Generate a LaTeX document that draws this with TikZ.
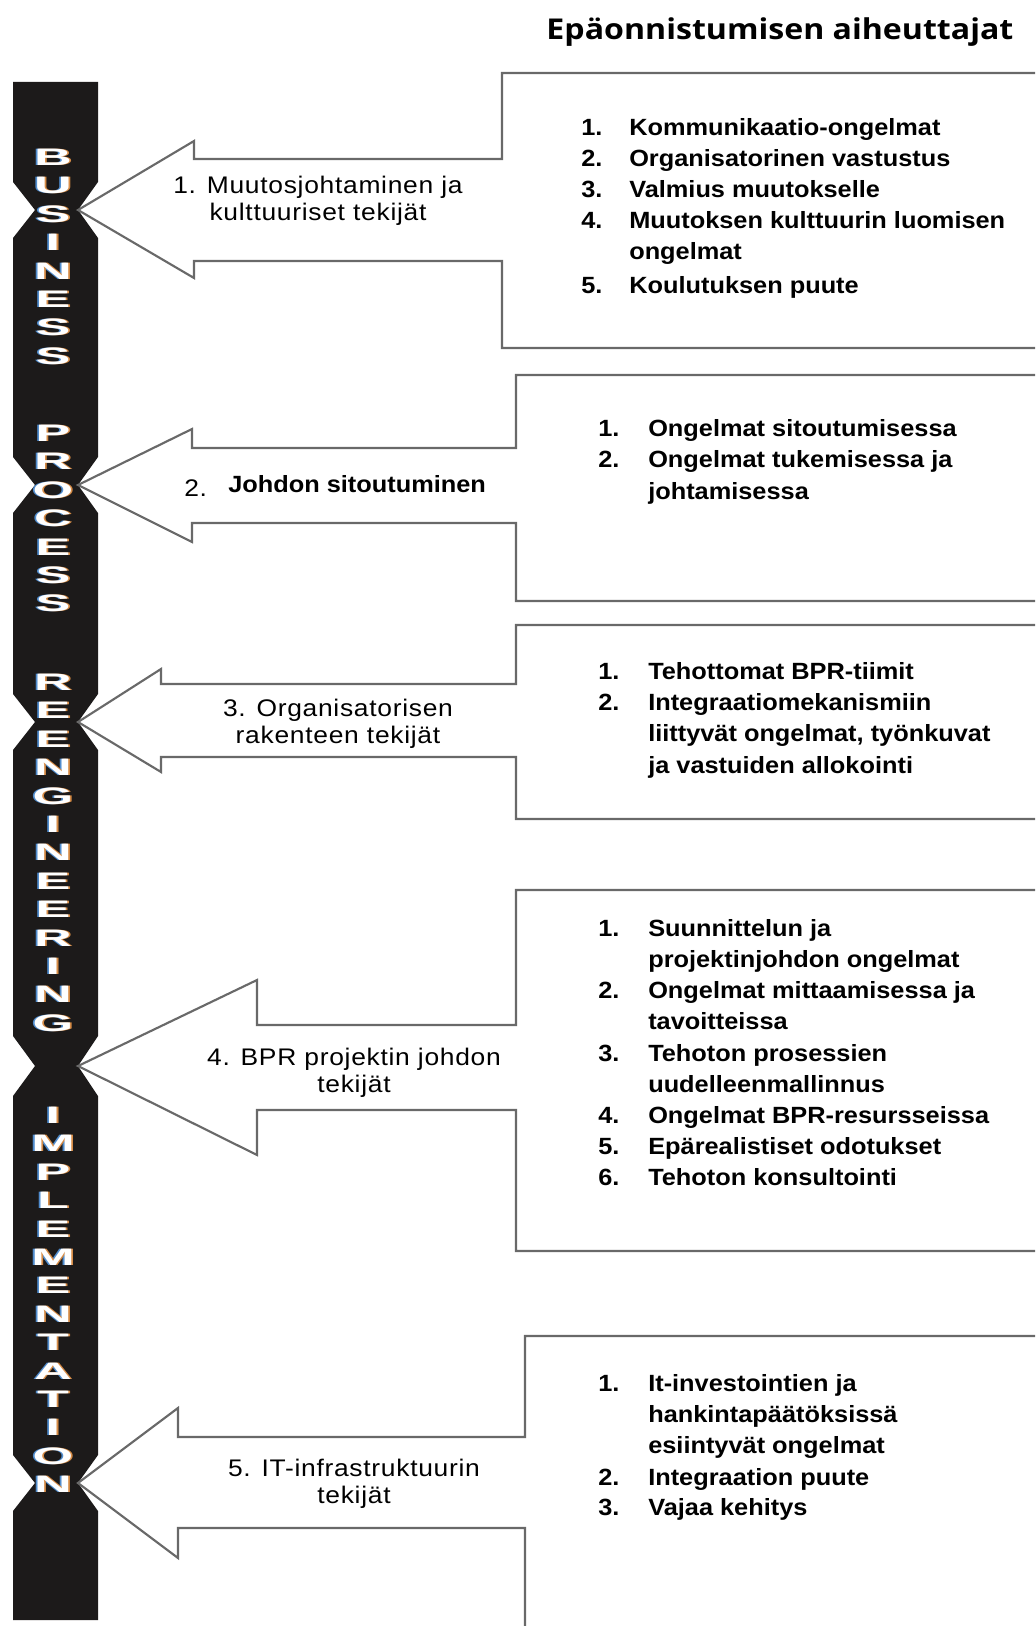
\documentclass[tikz,border=0pt]{standalone}
\usepackage{fontspec}
\setmainfont{Liberation Sans}
\newfontfamily\titlefont[FakeStretch=1.12]{Open Sans}
\newfontfamily\listfont[FakeStretch=1.08]{Liberation Sans}
\newfontfamily\labelfont[FakeStretch=1.1,LetterSpace=3]{Liberation Sans}
\newfontfamily\barfont[FakeStretch=2.2]{Liberation Sans}

\definecolor{barblack}{RGB}{28,26,26}
\definecolor{linegray}{RGB}{105,105,105}
\definecolor{fringeblue}{RGB}{80,140,205}
\definecolor{fringeorange}{RGB}{215,140,70}

\tikzset{
  outline/.style={draw=linegray, line width=1.6pt, fill=white, line join=miter},
  listtext/.style={anchor=west, inner sep=0pt, text height=12.5pt, text depth=0pt,
    font=\listfont\bfseries\fontsize{17.6}{21}\selectfont},
  lbl/.style={align=center, inner sep=0pt,
    font=\labelfont\fontsize{18}{20}\selectfont},
  barletter/.style={inner sep=0pt, text height=12.75pt, text depth=0pt,
    font=\barfont\bfseries\fontsize{17.8}{18}\selectfont},
  titletext/.style={inner sep=0pt, font=\titlefont\bfseries\fontsize{21.5}{24}\selectfont}
}

% one word of the band: letters 28.4 units apart, each with coloured fringes
\newcommand\bandword[2]{%
  \foreach \ch [count=\k] in {#2} {
    \pgfmathsetmacro\yy{#1+28.4*(\k-1)}
    \node[barletter, text=fringeblue] (#1-\k-b) at (51.2,\yy) {\ch};
    \node[barletter, text=fringeorange] (#1-\k-o) at (54.8,\yy) {\ch};
    \node[barletter, text=white] (#1-\k-w) at (53,\yy) {\ch};
  }%
}

\begin{document}
\begin{tikzpicture}[x=0.75pt, y=-0.75pt]
\useasboundingbox (0,0) rectangle (1035,1626);
\clip (0,0) rectangle (1035,1626);

% vertical band, pinched where each arrow points at it
\fill[barblack] (13,82) -- (98,82)
  -- (98,182) -- (78,210) -- (98,238)
  -- (98,457) -- (78,485) -- (98,513)
  -- (98,694) -- (78,722) -- (98,750)
  -- (98,1036) -- (78,1066) -- (98,1096)
  -- (98,1455) -- (78,1483) -- (98,1511)
  -- (98,1620) -- (13,1620)
  -- (13,1511) -- (35,1483) -- (13,1455)
  -- (13,1096) -- (35,1066) -- (13,1036)
  -- (13,750) -- (35,722) -- (13,694)
  -- (13,513) -- (35,485) -- (13,457)
  -- (13,238) -- (35,210) -- (13,182)
  -- cycle;

% arrow + box outlines (boxes run off the right edge)
\draw[outline] (1045,73) -- (502,73) -- (502,159) -- (194,159) -- (194,141)
  -- (78,210) -- (194,278) -- (194,261) -- (502,261) -- (502,348) -- (1045,348);
\draw[outline] (1045,375) -- (516,375) -- (516,448) -- (192,448) -- (192,429)
  -- (78,485) -- (192,542) -- (192,523) -- (516,523) -- (516,601) -- (1045,601);
\draw[outline] (1045,625) -- (516,625) -- (516,684) -- (161,684) -- (161,669)
  -- (78,722) -- (161,772) -- (161,757) -- (516,757) -- (516,819) -- (1045,819);
\draw[outline] (1045,890) -- (516,890) -- (516,1025) -- (257,1025) -- (257,980)
  -- (78,1066) -- (257,1155) -- (257,1110) -- (516,1110) -- (516,1251) -- (1045,1251);
\draw[outline] (1045,1336) -- (525,1336) -- (525,1437) -- (178,1437) -- (178,1408)
  -- (78,1483) -- (178,1558) -- (178,1528) -- (525,1528) -- (525,1645) -- (1045,1645);

% letters on the band
\bandword{157}{B,U,S,I,N,E,S,S}
\bandword{433}{P,R,O,C,E,S,S}
\bandword{682}{R,E,E,N,G,I,N,E,E,R,I,N,G}
\bandword{1115}{I,M,P,L,E,M,E,N,T,A,T,I,O,N}

% heading
\node[titletext] (title) at (780,32) {Epäonnistumisen aiheuttajat};

% arrow labels
\node[lbl] (lab1) at (318,200.5) {1. Muutosjohtaminen ja\\kulttuuriset tekijät};
\node[lbl, anchor=west, text height=12pt, text depth=0pt] (lab2n) at (184,488) {2.};
\node[listtext] (lab2) at (228,484) {Johdon sitoutuminen};
\node[lbl] (lab3) at (338,724) {3. Organisatorisen\\rakenteen tekijät};
\node[lbl] (lab4) at (354,1072.5) {4. BPR projektin johdon\\tekijät};
\node[lbl] (lab5) at (354,1483.5) {5. IT-infrastruktuurin\\tekijät};

% box 1
\node[listtext] (a1n1) at (581,127) {1.};
\node[listtext] (a1t1) at (629,127) {Kommunikaatio-ongelmat};
\node[listtext] (a1n2) at (581,158) {2.};
\node[listtext] (a1t2) at (629,158) {Organisatorinen vastustus};
\node[listtext] (a1n3) at (581,189) {3.};
\node[listtext] (a1t3) at (629,189) {Valmius muutokselle};
\node[listtext] (a1n4) at (581,220) {4.};
\node[listtext] (a1t4) at (629,220) {Muutoksen kulttuurin luomisen};
\node[listtext] (a1t4b) at (629,251) {ongelmat};
\node[listtext] (a1n5) at (581,285) {5.};
\node[listtext] (a1t5) at (629,285) {Koulutuksen puute};

% box 2
\node[listtext] (a2n1) at (598,428) {1.};
\node[listtext] (a2t1) at (648,428) {Ongelmat sitoutumisessa};
\node[listtext] (a2n2) at (598,459) {2.};
\node[listtext] (a2t2) at (648,459) {Ongelmat tukemisessa ja};
\node[listtext] (a2t2b) at (648,491) {johtamisessa};

% box 3
\node[listtext] (a3n1) at (598,671) {1.};
\node[listtext] (a3t1) at (648,671) {Tehottomat BPR-tiimit};
\node[listtext] (a3n2) at (598,702) {2.};
\node[listtext] (a3t2) at (648,702) {Integraatiomekanismiin};
\node[listtext] (a3t2b) at (648,733) {liittyvät ongelmat, työnkuvat};
\node[listtext] (a3t2c) at (648,765) {ja vastuiden allokointi};

% box 4
\node[listtext] (a4n1) at (598,928) {1.};
\node[listtext] (a4t1) at (648,928) {Suunnittelun ja};
\node[listtext] (a4t1b) at (648,959) {projektinjohdon ongelmat};
\node[listtext] (a4n2) at (598,990) {2.};
\node[listtext] (a4t2) at (648,990) {Ongelmat mittaamisessa ja};
\node[listtext] (a4t2b) at (648,1021) {tavoitteissa};
\node[listtext] (a4n3) at (598,1053) {3.};
\node[listtext] (a4t3) at (648,1053) {Tehoton prosessien};
\node[listtext] (a4t3b) at (648,1084) {uudelleenmallinnus};
\node[listtext] (a4n4) at (598,1115) {4.};
\node[listtext] (a4t4) at (648,1115) {Ongelmat BPR-resursseissa};
\node[listtext] (a4n5) at (598,1146) {5.};
\node[listtext] (a4t5) at (648,1146) {Epärealistiset odotukset};
\node[listtext] (a4n6) at (598,1177) {6.};
\node[listtext] (a4t6) at (648,1177) {Tehoton konsultointi};

% box 5
\node[listtext] (a5n1) at (598,1383) {1.};
\node[listtext] (a5t1) at (648,1383) {It-investointien ja};
\node[listtext] (a5t1b) at (648,1414) {hankintapäätöksissä};
\node[listtext] (a5t1c) at (648,1445) {esiintyvät ongelmat};
\node[listtext] (a5n2) at (598,1477) {2.};
\node[listtext] (a5t2) at (648,1477) {Integraation puute};
\node[listtext] (a5n3) at (598,1507) {3.};
\node[listtext] (a5t3) at (648,1507) {Vajaa kehitys};
\end{tikzpicture}
\end{document}
